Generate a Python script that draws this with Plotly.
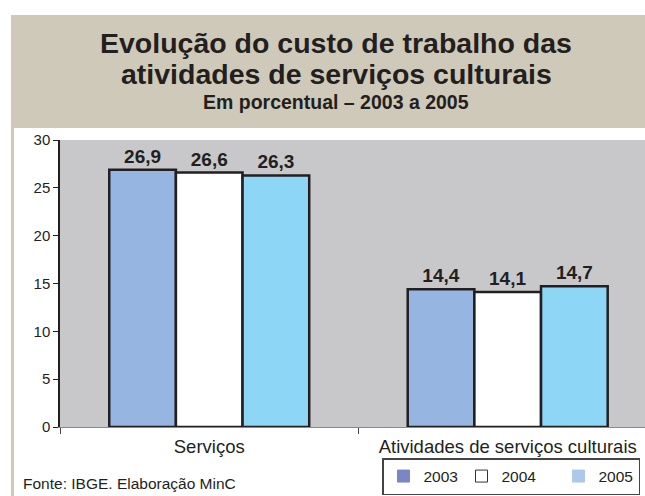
import plotly.graph_objects as go

# ---- data ----
categories = ["Serviços", "Atividades de serviços culturais"]
years = ["2003", "2004", "2005"]
values_2003 = [26.9, 14.4]
values_2004 = [26.6, 14.1]
values_2005 = [26.3, 14.7]
y_ticks = [0, 5, 10, 15, 20, 25, 30]

title_line1 = "Evolução do custo de trabalho das"
title_line2 = "atividades de serviços culturais"
subtitle = "Em porcentual – 2003 a 2005"
source = "Fonte: IBGE. Elaboração MinC"

# ---- layout geometry (pixels of the 645x496 window) ----
W, H = 645, 496
ML, MR, MT, MB = 60, 0, 140, 496 - 427
PW = W - ML - MR
PH = H - MT - MB


def px_x(px):
    return (px - ML) / PW


def px_y(py):
    return (H - MB - py) / PH


FONT = "Liberation Sans, Arial, Helvetica, sans-serif"
DARK = "#231F20"
bar_colors = ["#96B5E0", "#FFFFFF", "#8DD6F6"]
legend_colors = ["#7B86C4", "#FFFFFF", "#ADC9EA"]


def fmt(v):
    return f"{v:.1f}".replace(".", ",")


fig = go.Figure()
series = [values_2003, values_2004, values_2005]
for name, vals, col in zip(years, series, bar_colors):
    fig.add_trace(go.Bar(
        x=categories, y=vals, name=name,
        marker=dict(color=col, line=dict(color=DARK, width=2.5)),
        text=[fmt(v) for v in vals], textposition="outside",
        textfont=dict(family=FONT, size=19, color=DARK, weight="bold"),
        cliponaxis=False, showlegend=False,
    ))

# legend entries (legend swatch colours differ from bars in the original)
legend_widths = [33, 52, None]
for name, col, lw in zip(years, legend_colors, legend_widths):
    fig.add_trace(go.Scatter(
        x=[None], y=[None], mode="markers", name=name,
        marker=dict(symbol="square", size=12, color=col,
                    line=dict(color="#333333" if col == "#FFFFFF" else col, width=1)),
        legendwidth=lw,
    ))

shapes = [
    # beige header
    dict(type="rect", xref="paper", yref="paper",
         x0=px_x(11), x1=px_x(650), y0=px_y(128), y1=px_y(15),
         fillcolor="#CFC9BA", line=dict(width=0), layer="below"),
    # left beige strip
    dict(type="rect", xref="paper", yref="paper",
         x0=px_x(11), x1=px_x(14), y0=px_y(500), y1=px_y(128),
         fillcolor="#CFC9BA", line=dict(width=0), layer="below"),
]

annotations = [
    dict(text=f"<b>{title_line1}</b>", x=px_x(336), y=px_y(43), xref="paper", yref="paper",
         xanchor="center", yanchor="middle", showarrow=False,
         font=dict(family=FONT, size=28.5, color=DARK)),
    dict(text=f"<b>{title_line2}</b>", x=px_x(336), y=px_y(74), xref="paper", yref="paper",
         xanchor="center", yanchor="middle", showarrow=False,
         font=dict(family=FONT, size=28.5, color=DARK)),
    dict(text=f"<b>{subtitle}</b>", x=px_x(336), y=px_y(102), xref="paper", yref="paper",
         xanchor="center", yanchor="middle", showarrow=False,
         font=dict(family=FONT, size=19.5, color=DARK)),
    dict(text=source, x=px_x(21), y=px_y(483), xref="paper", yref="paper",
         xanchor="left", yanchor="middle", showarrow=False,
         font=dict(family=FONT, size=15.5, color=DARK)),
]

fig.update_layout(
    width=W, height=H,
    margin=dict(l=ML, r=MR, t=MT, b=MB, pad=0, autoexpand=False),
    paper_bgcolor="white", plot_bgcolor="#C8C8CA",
    barmode="group", bargap=0.33, bargroupgap=0,
    shapes=shapes, annotations=annotations,
    font=dict(family=FONT, color=DARK),
    legend=dict(orientation="h", x=px_x(640), y=px_y(495), xanchor="right", yanchor="bottom",
                bgcolor="white", bordercolor="#444444", borderwidth=1.5,
                font=dict(family=FONT, size=15.5, color=DARK),
                itemclick=False, tracegroupgap=0),
    xaxis=dict(range=[-0.5, 1.46], type="category", tickson="boundaries",
               ticks="outside", ticklen=6, tickcolor="#444444", tickwidth=1,
               showline=True, linecolor="#8A8A8A", linewidth=1,
               showgrid=False, zeroline=False, ticklabelstandoff=3,
               tickfont=dict(family=FONT, size=18.5, color=DARK)),
    yaxis=dict(range=[0, 30], tickvals=y_ticks, ticktext=[str(t) for t in y_ticks],
               ticks="outside", ticklen=5, tickcolor=DARK, tickwidth=1,
               showline=True, linecolor=DARK, linewidth=1.5,
               showgrid=False, zeroline=False,
               tickfont=dict(family=FONT, size=15, color=DARK)),
)

# remove the default page margin so the figure fills the window exactly
fig.write_html(
    "out.html",
    config={"displayModeBar": False},
    post_script="document.body.style.margin='0';document.body.style.overflow='hidden';",
)
